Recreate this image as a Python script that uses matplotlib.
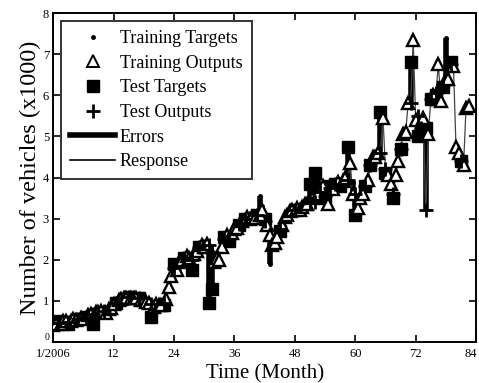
import matplotlib
matplotlib.use("Agg")
import matplotlib.pyplot as plt
import matplotlib.transforms as mtransforms
from matplotlib.lines import Line2D
import numpy as np

plt.rcParams["font.family"] = ["Liberation Serif", "DejaVu Serif"]

# half-month steps, months 0 .. 82.5
months = [i * 0.5 for i in range(166)]

targets = [
    0.45, 0.40, 0.50, 0.42, 0.48, 0.55, 0.45, 0.52, 0.58, 0.50,
    0.55, 0.62, 0.48, 0.60, 0.70, 0.65, 0.45, 0.75, 0.70, 0.80,
    0.72, 0.60, 0.85, 0.78, 0.90, 0.95, 1.00, 1.05, 1.10, 1.05,
    1.10, 1.08, 1.05, 1.10, 1.08, 1.02, 1.05, 1.00, 0.95, 0.60,
    0.65, 0.95, 0.92, 0.88, 0.90, 1.00, 1.30, 1.55, 1.90, 1.70,
    1.95, 2.00, 2.05, 2.10, 2.00, 1.75, 2.15, 2.20, 2.30, 2.35,
    2.25, 2.40, 0.95, 1.30, 1.90, 2.00, 1.85, 2.30, 2.55, 2.60,
    2.45, 2.70, 2.80, 2.75, 2.85, 2.95, 3.00, 3.10, 2.95, 3.05,
    3.00, 3.10, 3.55, 3.30, 3.00, 2.90, 1.90, 2.30, 2.40, 2.50,
    2.70, 2.85, 3.05, 3.10, 3.20, 3.25, 3.20, 3.25, 3.15, 3.30,
    3.40, 3.35, 3.85, 3.70, 4.10, 4.00, 3.60, 3.85, 3.50, 3.30,
    3.80, 3.70, 3.85, 3.90, 3.80, 3.95, 4.00, 4.75, 4.30, 3.90,
    3.10, 3.20, 3.50, 3.60, 3.80, 4.00, 4.30, 4.50, 4.50, 4.60,
    5.60, 5.40, 4.10, 4.00, 3.80, 3.50, 4.00, 4.40, 4.70, 5.10,
    5.10, 5.80, 6.80, 7.40, 5.50, 5.00, 5.10, 5.50, 5.20, 5.10,
    5.90, 6.00, 6.00, 6.80, 5.90, 6.20, 7.40, 6.40, 6.80, 6.70,
    4.80, 4.60, 4.40, 4.20, 5.70, 5.75,
]

outputs = [
    0.42, 0.45, 0.47, 0.45, 0.50, 0.52, 0.48, 0.50, 0.55, 0.53,
    0.57, 0.58, 0.55, 0.62, 0.66, 0.68, 0.68, 0.72, 0.74, 0.76,
    0.75, 0.70, 0.80, 0.82, 0.92, 0.96, 1.02, 1.05, 1.08, 1.07,
    1.09, 1.08, 1.07, 1.08, 1.06, 1.03, 1.02, 0.98, 0.96, 0.92,
    0.85, 0.93, 0.90, 0.90, 0.95, 1.05, 1.35, 1.60, 1.80, 1.75,
    1.95, 2.00, 2.05, 2.08, 2.05, 2.00, 2.15, 2.22, 2.30, 2.35,
    2.30, 2.38, 2.35, 2.20, 1.95, 2.05, 2.00, 2.30, 2.50, 2.60,
    2.50, 2.65, 2.75, 2.78, 2.88, 2.95, 3.00, 3.05, 3.00, 3.05,
    3.02, 3.10, 3.10, 3.20, 2.95, 2.85, 2.60, 2.35, 2.40, 2.55,
    2.75, 2.85, 3.05, 3.10, 3.18, 3.22, 3.22, 3.25, 3.20, 3.28,
    3.35, 3.35, 3.40, 3.50, 3.40, 3.60, 3.65, 3.80, 3.55, 3.35,
    3.75, 3.72, 3.85, 3.88, 3.85, 3.92, 4.00, 3.95, 4.35, 3.60,
    3.60, 3.25, 3.50, 3.60, 3.80, 3.95, 4.30, 4.50, 4.50, 4.60,
    4.60, 5.45, 4.20, 4.05, 3.85, 3.60, 4.05, 4.40, 4.70, 5.05,
    5.10, 5.80, 5.80, 7.35, 5.40, 5.50, 5.20, 5.45, 3.20, 5.05,
    5.90, 6.00, 6.05, 6.75, 5.85, 6.25, 6.40, 6.40, 6.75, 6.70,
    4.75, 4.60, 4.40, 4.30, 5.70, 5.75,
]

test_idx = [2, 6, 10, 13, 16, 20, 25, 30, 34, 39, 44, 48, 52, 55, 58,
            62, 63, 68, 70, 74, 76, 81, 84, 90, 96, 102, 104, 106, 108,
            110, 112, 114, 117, 120, 124, 126, 130, 132, 135, 138, 142,
            145, 146, 148, 150, 152, 155, 158, 162]

x_ticks = [0, 12, 24, 36, 48, 60, 72, 84]
x_ticklabels = ["1/2006", "12", "24", "36", "48", "60", "72", "84"]
y_ticks = [0, 1, 2, 3, 4, 5, 6, 7, 8]

t = np.array(months)
tg = np.array(targets)
op = np.array(outputs)
is_test = np.zeros(len(t), dtype=bool)
is_test[test_idx] = True
tr = ~is_test

fig = plt.figure(figsize=(4.79, 3.83), dpi=100)
ax = fig.add_axes([0.111, 0.107, 0.883, 0.859])

# errors: thick segments from target to output
for xi, a, b in zip(t, tg, op):
    ax.plot([xi, xi], [a, b], color="black", lw=4.0, solid_capstyle="butt", zorder=2)

# response line
ax.plot(t, op, color="#444444", lw=0.9, zorder=3)

ax.plot(t[tr], tg[tr], ".", color="black", ms=5, zorder=4)
ax.plot(t[tr], op[tr], "^", mfc="white", mec="black", mew=1.7, ms=8, zorder=5)
ax.plot(t[is_test], tg[is_test], "s", mfc="black", mec="black", ms=8, zorder=4)
ax.plot(t[is_test], op[is_test], "+", color="black", mew=2.0, ms=10, zorder=5)

ax.set_xlim(0, 84)
ax.set_ylim(0, 8)
ax.set_xticks(x_ticks)
ax.set_xticklabels(x_ticklabels, fontsize=9)
ax.set_yticks(y_ticks)
ax.set_yticklabels([str(v) for v in y_ticks], fontsize=9)
ax.tick_params(axis="x", pad=4)
ax.tick_params(axis="y", pad=3)
ax.tick_params(direction="in", top=True, right=True, length=5, width=1.2)
for sp in ax.spines.values():
    sp.set_linewidth(1.4)

# small "0" sitting just above the first date label, last label nudged inside
zero_lbl = ax.get_yticklabels()[0]
zero_lbl.set_fontsize(7)
zero_lbl.set_va("bottom")
last_lbl = ax.get_xticklabels()[-1]
last_lbl.set_transform(last_lbl.get_transform()
                       + mtransforms.ScaledTranslation(-4 / 72, 0, fig.dpi_scale_trans))

ax.set_xlabel("Time (Month)", fontsize=15, labelpad=3)
ax.set_ylabel("Number of vehicles (x1000)", fontsize=17.5, labelpad=1)

handles = [
    Line2D([], [], ls="none", marker=".", color="black", ms=5),
    Line2D([], [], ls="none", marker="^", mfc="white", mec="black", mew=1.4, ms=8),
    Line2D([], [], ls="none", marker="s", mfc="black", mec="black", ms=8),
    Line2D([], [], ls="none", marker="+", color="black", mew=2.0, ms=10),
    Line2D([], [], color="black", lw=4.0),
    Line2D([], [], color="black", lw=1.2),
]
labels = ["Training Targets", "Training Outputs", "Test Targets",
          "Test Outputs", "Errors", "Response"]
leg = ax.legend(handles, labels, loc="upper left", fontsize=13, frameon=True,
                fancybox=False, edgecolor="black", handlelength=2.5,
                labelspacing=0.42, borderaxespad=0.45, handletextpad=0.25,
                borderpad=0.5)
leg.get_frame().set_linewidth(1.4)

fig.savefig("out.png", dpi=100)
